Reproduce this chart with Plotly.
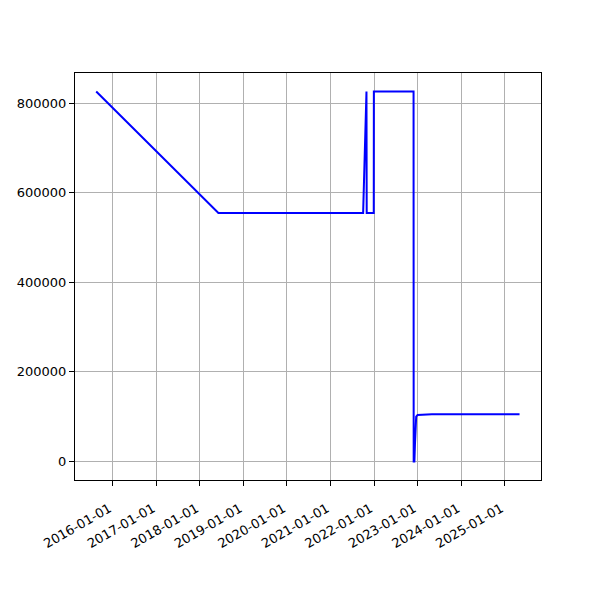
import plotly.graph_objects as go

dates = [
    "2015-08-15", "2018-06-05", "2021-10-01", "2021-10-29", "2021-10-31",
    "2021-12-29", "2021-12-30", "2022-11-28", "2022-11-29", "2022-12-05",
    "2022-12-10", "2022-12-20", "2023-01-01", "2023-05-01", "2025-05-05",
]
values = [
    826000, 555000, 555000, 826000, 555000,
    555000, 826000, 826000, 0, 0,
    40000, 100000, 104000, 105500, 105500,
]
x_ticks = ["2016-01-01", "2017-01-01", "2018-01-01", "2019-01-01", "2020-01-01",
           "2021-01-01", "2022-01-01", "2023-01-01", "2024-01-01", "2025-01-01"]
y_ticks = [0, 200000, 400000, 600000, 800000]

fig = go.Figure()
fig.add_trace(go.Scatter(x=dates, y=values, mode="lines",
                         line=dict(color="blue", width=2), showlegend=False))

axis_common = dict(
    showline=True, linecolor="black", linewidth=1, mirror=True,
    ticks="outside", ticklen=5, tickcolor="black", tickwidth=1,
    showgrid=True, gridcolor="#b0b0b0", gridwidth=1, zeroline=False,
    tickfont=dict(family="DejaVu Sans", size=13, color="black"),
    automargin=False,
)
fig.update_xaxes(
    type="date", range=["2015-02-18", "2025-11-01"],
    tickvals=x_ticks, ticktext=[t + "\u00a0" for t in x_ticks], tickangle=-30,
    ticklabelstandoff=8, **axis_common,
)
fig.update_yaxes(
    range=[-41300, 867300], tickvals=y_ticks,
    ticktext=[str(v) for v in y_ticks], **axis_common,
)
fig.update_layout(
    width=600, height=600,
    margin=dict(l=67, r=67, t=65, b=128),
    plot_bgcolor="white", paper_bgcolor="white",
    font=dict(family="DejaVu Sans", size=13, color="black"),
)
fig.write_html("out.html")
